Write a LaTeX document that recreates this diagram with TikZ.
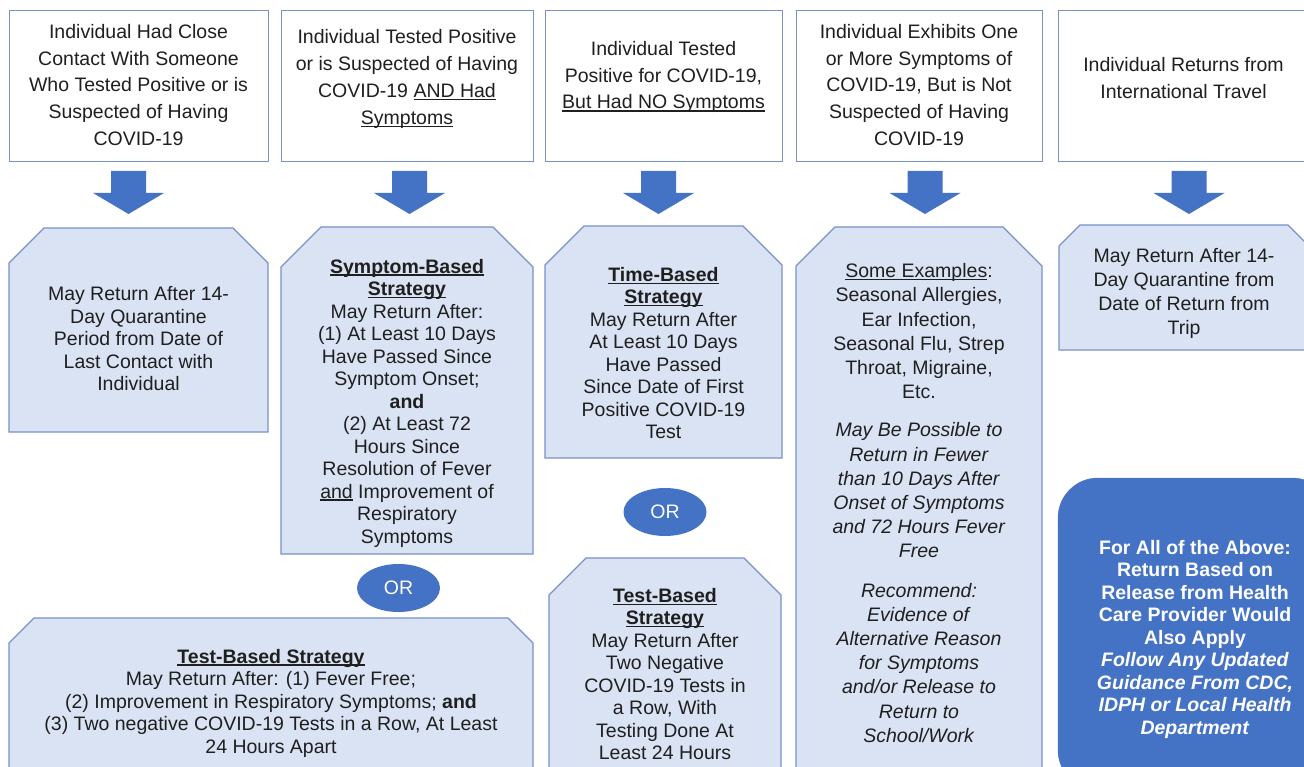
\documentclass[tikz,border=0pt]{standalone}
\usepackage{fontspec}
\setmainfont{Liberation Sans}
\usetikzlibrary{shapes, positioning}
\definecolor{edgeblue}{HTML}{7891C8}
\definecolor{paleblue}{HTML}{DAE3F3}
\definecolor{midblue}{HTML}{4472C4}
\definecolor{ink}{HTML}{1F1F1F}
\tikzstyle{topbox}=[shape=rectangle, draw=edgeblue, fill=white, line width=1.3pt, inner sep=0pt, anchor=north west, minimum height=151pt]
\tikzstyle{snipbox}=[draw=edgeblue, fill=paleblue, line width=1.3pt]
\tikzstyle{toptext}=[align=center, inner sep=0pt, text=ink, font=\fontsize{19.5}{26.9}\selectfont]
\tikzstyle{lowtext}=[align=center, inner sep=0pt, text=ink, font=\fontsize{19.5}{22.5}\selectfont]
\tikzstyle{widetext}=[align=center, inner sep=0pt, text=ink, font=\fontsize{19.5}{24.2}\selectfont]
\tikzstyle{ortag}=[shape=ellipse, fill=midblue, text=white, inner sep=0pt, minimum width=83pt, minimum height=48pt, font=\fontsize{19.5}{22.5}\selectfont]
\tikzstyle{notetext}=[align=center, inner sep=0pt, text=white, font=\fontsize{19.5}{22.5}\selectfont\bfseries]
% underline at a fixed depth
\newsavebox{\ulbox}
\newcommand{\lineunder}[1]{\sbox{\ulbox}{#1}\rlap{\rule[-2.6pt]{\wd\ulbox}{1.2pt}}\usebox{\ulbox}}
% box with the two top corners cut off: x1, y1, x2, y2, cut
\newcommand{\snip}[5]{\draw[snipbox] (#1+#5,#2) -- (#3-#5,#2) -- (#3,#2+#5) -- (#3,#4) -- (#1,#4) -- (#1,#2+#5) -- cycle;}
\begin{document}
\begin{tikzpicture}[x=1pt, y=-1pt]
\useasboundingbox (0,0) rectangle (1304,767);
\clip (0,0) rectangle (1304,767);
%situations
\foreach \i/\xa/\w in {1/9/259, 2/281/252, 3/545/237, 4/796/246, 5/1058/251}{
	\node[topbox, minimum width=\w pt] (top\i) at (\xa,10) {};
}
\node[toptext] (closecontact) at (138.5,85) {Individual Had Close\\Contact With Someone\\Who Tested Positive or is\\Suspected of Having\\COVID-19};
\node[toptext] (sickpositive) at (407,79) {Individual Tested Positive\\or is Suspected of Having\\COVID-19 \lineunder{AND Had}\\\lineunder{Symptoms}};
\node[toptext] (quietpositive) at (663.5,77) {Individual Tested\\Positive for COVID-19,\\\lineunder{But Had NO Symptoms}};
\node[toptext] (othersymptoms) at (919,85) {Individual Exhibits One\\or More Symptoms of\\COVID-19, But is Not\\Suspected of Having\\COVID-19};
\node[toptext] (travel) at (1183.5,78) {Individual Returns from\\International Travel};
%arrows
\foreach \x in {128.5,409.5,658.5,925,1189}{
	\fill[midblue] (\x-17.5,171) -- (\x+17.5,171) -- (\x+17.5,193) -- (\x+35.5,193) -- (\x,214) -- (\x-35.5,193) -- (\x-17.5,193) -- cycle;
}
%outcomes
\snip{9}{228}{268}{432}{35}
\snip{281}{227}{533}{554}{40}
\snip{545}{226}{782}{458}{39}
\snip{796}{227}{1042}{790}{39}
\snip{1059}{225}{1309}{350}{21}
\snip{9}{618}{533}{768}{25}
\snip{549}{558}{781}{790}{37}
\node[lowtext] (quarantine) at (138.5,339) {May Return After 14-\\Day Quarantine\\Period from Date of\\Last Contact with\\Individual};
\node[lowtext] (symptomrule) at (407,403) {\textbf{\lineunder{Symptom-Based}}\\\textbf{\lineunder{Strategy}}\\May Return After:\\(1) At Least 10 Days\\Have Passed Since\\Symptom Onset;\\\textbf{and}\\(2) At Least 72\\Hours Since\\Resolution of Fever\\\lineunder{and} Improvement of\\Respiratory\\Symptoms};
\node[lowtext] (timerule) at (663.5,353) {\textbf{\lineunder{Time-Based}}\\\textbf{\lineunder{Strategy}}\\May Return After\\At Least 10 Days\\Have Passed\\Since Date of First\\Positive COVID-19\\Test};
\node[widetext] (examples) at (919,503) {\lineunder{Some Examples}:\\Seasonal Allergies,\\Ear Infection,\\Seasonal Flu, Strep\\Throat, Migraine,\\Etc.\\[14pt]\textit{May Be Possible to}\\\textit{Return in Fewer}\\\textit{than 10 Days After}\\\textit{Onset of Symptoms}\\\textit{and 72 Hours Fever}\\\textit{Free}\\[15pt]\textit{Recommend:}\\\textit{Evidence of}\\\textit{Alternative Reason}\\\textit{for Symptoms}\\\textit{and/or Release to}\\\textit{Return to}\\\textit{School/Work}};
\node[widetext, font=\fontsize{19.5}{24}\selectfont] (tripquarantine) at (1184,293) {May Return After 14-\\Day Quarantine from\\Date of Return from\\Trip};
\node[lowtext] (testrule) at (271,703) {\textbf{\lineunder{Test-Based Strategy}}\\May Return After: (1) Fever Free;\\(2) Improvement in Respiratory Symptoms; \textbf{and}\\(3) Two negative COVID-19 Tests in a Row, At Least\\24 Hours Apart};
\node[lowtext] (testrule2) at (665,674) {\textbf{\lineunder{Test-Based}}\\\textbf{\lineunder{Strategy}}\\May Return After\\Two Negative\\COVID-19 Tests in\\a Row, With\\Testing Done At\\Least 24 Hours};
\node[ortag] (or1) at (398.5,588) {OR};
\node[ortag] (or2) at (665,512) {OR};
%note for all
\draw[fill=midblue, draw=midblue, rounded corners=40pt] (1058,478) rectangle (1332,790);
\node[notetext] (forall) at (1195,639) {For All of the Above:\\Return Based on\\Release from Health\\Care Provider Would\\Also Apply\\\textit{Follow Any Updated}\\\textit{Guidance From CDC,}\\\textit{IDPH or Local Health}\\\textit{Department}};
\end{tikzpicture}
\end{document}
